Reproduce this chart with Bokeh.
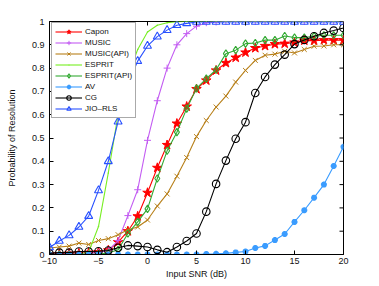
import math
from bokeh.plotting import figure
from bokeh.models import Legend, LegendItem, FixedTicker, Range1d
from bokeh.embed import file_html
from bokeh.resources import INLINE

snr = list(range(-10, 21))

capon = [0.0, 0.002, 0.004, 0.005, 0.008, 0.01, 0.018, 0.053, 0.10, 0.164, 0.265, 0.372, 0.47, 0.562, 0.635,
         0.71, 0.747, 0.79, 0.822, 0.845, 0.867, 0.886, 0.895, 0.903, 0.905, 0.91, 0.918, 0.918, 0.92, 0.92, 0.92]
music = [0.0, 0.0, 0.002, 0.003, 0.005, 0.008, 0.018, 0.06, 0.167, 0.278, 0.49, 0.66, 0.80, 0.90, 0.948,
         0.98, 0.995, 0.998, 1.0, 1.0, 1.0, 1.0, 1.0, 1.0, 1.0, 1.0, 1.0, 1.0, 1.0, 1.0, 1.0]
music_api = [0.028, 0.032, 0.036, 0.049, 0.043, 0.06, 0.068, 0.085, 0.106, 0.118, 0.148, 0.208, 0.26, 0.336, 0.416,
             0.506, 0.575, 0.633, 0.68, 0.74, 0.79, 0.833, 0.855, 0.86, 0.872, 0.865, 0.88, 0.894, 0.895, 0.90, 0.90]
esprit = [0.0, 0.0, 0.0, 0.002, 0.01, 0.12, 0.35, 0.6, 0.77, 0.88, 0.955, 0.984, 0.995, 0.999, 1.0,
          1.0, 1.0, 1.0, 1.0, 1.0, 1.0, 1.0, 1.0, 1.0, 1.0, 1.0, 1.0, 1.0, 1.0, 1.0, 1.0]
esprit_api = [0.0, 0.0, 0.0, 0.0, 0.0, 0.002, 0.006, 0.02, 0.09, 0.14, 0.196, 0.326, 0.445, 0.525, 0.626,
              0.713, 0.755, 0.793, 0.862, 0.877, 0.905, 0.908, 0.92, 0.92, 0.938, 0.931, 0.931, 0.937, 0.941, 0.941, 0.941]
av = [0.0, 0.0, 0.0, 0.0, 0.0, 0.0, 0.0, 0.0, 0.0, 0.0, 0.0, 0.0, 0.0, 0.0, 0.0,
      0.0, 0.002, 0.003, 0.005, 0.009, 0.013, 0.028, 0.037, 0.062, 0.088, 0.14, 0.19, 0.244, 0.30, 0.38, 0.462]
cg = [0.005, 0.008, 0.008, 0.013, 0.013, 0.014, 0.017, 0.029, 0.039, 0.036, 0.032, 0.02, 0.01, 0.032, 0.058,
      0.09, 0.184, 0.303, 0.403, 0.497, 0.568, 0.693, 0.762, 0.815, 0.858, 0.903, 0.921, 0.937, 0.951, 0.961, 0.972]
jio_rls = [0.03, 0.058, 0.082, 0.118, 0.165, 0.275, 0.40, 0.57, 0.73, 0.83, 0.895, 0.935, 0.963, 0.984, 0.992,
           0.998, 0.998, 0.998, 0.998, 0.998, 0.998, 0.998, 0.998, 0.998, 0.998, 0.998, 0.998, 0.998, 0.998, 0.998, 0.998]

series_names = ["Capon", "MUSIC", "MUSIC(API)", "ESPRIT", "ESPRIT(API)", "AV", "CG", "JIO\u2013RLS"]
series_values = [capon, music, music_api, esprit, esprit_api, av, cg, jio_rls]
series_colors = ["#ff0000", "#c35cf2", "#b8801a", "#77ee22", "#33aa33", "#3a9cff", "#000000", "#2850ff"]
series_markers = ["star", "cross", "x", "dot", "diamond", "asterisk", "circle", "triangle"]

x_ticks = [-10, -5, 0, 5, 10, 15, 20]
y_ticks = [0, 0.1, 0.2, 0.3, 0.4, 0.5, 0.6, 0.7, 0.8, 0.9, 1]
y_tick_labels = ["0", "0.1", "0.2", "0.3", "0.4", "0.5", "0.6", "0.7", "0.8", "0.9", "1"]

FONT = "Liberation Sans"

p = figure(frame_width=294, frame_height=233, output_backend="svg", toolbar_location=None,
           x_range=Range1d(-10, 20), y_range=Range1d(0, 1),
           min_border_left=49, min_border_right=20, min_border_top=21, min_border_bottom=28)
p.xgrid.visible = False
p.ygrid.visible = False
p.outline_line_color = "black"
p.outline_line_width = 1

items = []
for name, vals, col, mk in zip(series_names, series_values, series_colors, series_markers):
    ln = p.line(snr, vals, line_color=col, line_width=1.1)
    if mk == "star":
        sc = p.scatter(snr, vals, marker="star", size=10, fill_color=col, line_color=col)
    elif mk == "dot":
        sc = p.scatter(snr, vals, marker="dot", size=6, line_color=col, fill_color=col)
    elif mk == "asterisk":
        sc = p.scatter(snr, vals, marker="asterisk", size=6, line_color=col, line_width=2)
    elif mk in ("cross", "x"):
        sc = p.scatter(snr, vals, marker=mk, size=7, line_color=col, line_width=1)
    elif mk == "triangle":
        sc = p.scatter(snr, vals, marker=mk, size=8, line_color=col, fill_color=None, line_width=1.1)
    else:
        sc = p.scatter(snr, vals, marker=mk, size=7.5, line_color=col, fill_color=None, line_width=1.1)
    items.append(LegendItem(label=name, renderers=[ln, sc]))

# inward ticks on the right and top edges (matlab box style)
p.ray(x=[20] * len(y_ticks), y=y_ticks, length=4, length_units="screen", angle=math.pi,
      line_color="black", line_width=1)
p.ray(x=x_ticks, y=[1] * len(x_ticks), length=4, length_units="screen", angle=-math.pi / 2,
      line_color="black", line_width=1)

legend = Legend(items=items, location=(2, 136), margin=0, padding=3, spacing=0,
                glyph_height=11, glyph_width=27, label_height=11, label_standoff=3,
                label_text_font=FONT, label_text_font_size="8px", label_text_color="#111111",
                border_line_color="#555555", border_line_width=1, background_fill_alpha=1)
p.add_layout(legend, "center")

for ax in (p.xaxis[0], p.yaxis[0]):
    ax.major_tick_in = 4
    ax.major_tick_out = 0
    ax.minor_tick_line_color = None
    ax.major_label_text_font = FONT
    ax.major_label_text_font_size = "9px"
    ax.major_label_text_color = "#111111"
    ax.axis_label_text_font = FONT
    ax.axis_label_text_font_size = "9px"
    ax.axis_label_text_font_style = "normal"
    ax.axis_label_text_color = "#111111"

p.xaxis[0].ticker = FixedTicker(ticks=x_ticks)
p.yaxis[0].ticker = FixedTicker(ticks=y_ticks)
p.yaxis[0].major_label_overrides = {t: s for t, s in zip(y_ticks, y_tick_labels)}
p.xaxis[0].axis_label = "Input SNR (dB)"
p.yaxis[0].axis_label = "Probability of Resolution"
p.xaxis[0].major_label_standoff = 3
p.yaxis[0].major_label_standoff = 5
p.xaxis[0].axis_label_standoff = 2
p.yaxis[0].axis_label_standoff = 12

open("out.html", "w").write(file_html(p, INLINE))
